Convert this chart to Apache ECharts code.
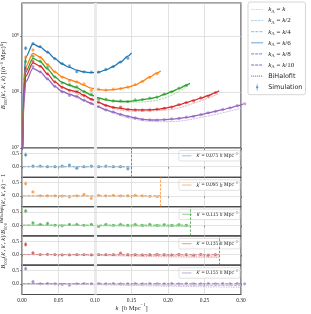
<!DOCTYPE html>
<html><head><meta charset="utf-8">
<script src="https://cdn.jsdelivr.net/npm/echarts@6/dist/echarts.min.js"></script>
<style>html,body{margin:0;padding:0;background:#fff}#c{width:311px;height:314px}</style>
</head><body><div id="c"></div>
<script>
// ---------------- data ----------------
const kLead = [0.001, 0.0025];
const kBins = [0.005,0.015,0.025,0.035,0.045,0.055,0.065,0.075,0.085,0.095,0.105,0.115,0.125,0.135,0.145,0.155,0.165,0.175,0.185,0.195,0.205,0.215,0.225,0.235,0.245,0.255,0.265,0.275,0.285,0.295,0.305];
const kPrimeLabels = ['0.075','0.095','0.115','0.135','0.155'];
const kEnd = [0.15, 0.19, 0.23, 0.27, 0.31];

// model (BiHalofit-like) curves: values at kLead, then kBins, then kEnd
const modelBlue = [2.0e7,1.58e8, 4.17e8,7.19e8,6.31e8,5.13e8,3.94e8,3.16e8,2.75e8,2.45e8,2.29e8,2.21e8,2.26e8,2.48e8,2.85e8,3.43e8,4.37e8, 5.01e8];
const modelOrange = [1.41e7,1.07e8, 2.82e8,4.90e8,4.17e8,3.09e8,2.29e8,1.86e8,1.66e8,1.51e8,1.32e8,1.17e8,1.10e8,1.08e8,1.10e8,1.15e8,1.22e8,1.33e8,1.55e8,1.86e8,2.19e8, 2.37e8];
const modelGreen = [1.12e7,8.91e7, 2.29e8,3.98e8,3.47e8,2.57e8,1.86e8,1.48e8,1.32e8,1.20e8,1.02e8,8.81e7,7.85e7,7.24e7,6.92e7,6.76e7,6.76e7,7.00e7,7.33e7,7.59e7,8.13e7,9.02e7,1.01e8,1.15e8,1.32e8, 1.43e8];
const modelRed = [1.0e7,7.59e7, 1.91e8,3.31e8,2.88e8,2.09e8,1.51e8,1.22e8,1.08e8,1.01e8,8.71e7,7.50e7,6.53e7,5.75e7,5.31e7,5.13e7,4.90e7,4.79e7,4.79e7,4.79e7,4.90e7,5.13e7,5.43e7,5.89e7,6.46e7,7.08e7,7.76e7,8.61e7,9.77e7, 1.05e8];
const modelPurple = [8.91e6,6.31e7, 1.51e8,2.63e8,2.29e8,1.70e8,1.26e8,1.02e8,9.12e7,8.32e7,7.08e7,6.24e7,5.43e7,4.79e7,4.37e7,3.98e7,3.67e7,3.43e7,3.24e7,3.16e7,3.16e7,3.20e7,3.27e7,3.37e7,3.51e7,3.69e7,3.94e7,4.22e7,4.52e7,4.84e7,5.21e7,5.65e7,6.17e7, 6.46e7];

// faint k_Lambda = k variant in the main panel (k, B)
const mainVarGreen = [[0.05,1.62e8],[0.1,8.15e7],[0.15,6.6e7],[0.19,7.4e7],[0.23,1.36e8]];
const mainVarRed = [[0.05,1.32e8],[0.1,6.87e7],[0.15,4.55e7],[0.2,4.8e7],[0.24,6.6e7],[0.27,9.35e7]];
const mainVarPurple = [[0.05,1.12e8],[0.1,5.71e7],[0.15,3.34e7],[0.2,2.95e7],[0.25,3.62e7],[0.3,5.12e7]];

// simulation / BiHalofit - 1 at kBins
const resBlue = [0.45,0.02,0.02,0.0,0.0,0.02,0.06,-0.06,0.0,0.02,0.0,0.02,0.0,0.0,-0.08];
const resOrange = [0.47,0.15,0.0,0.0,0.0,-0.01,-0.04,0.0,0.06,-0.09,0.02,0.0,0.02,0.0,0.0,0.02,0.0,-0.02,-0.03];
const resGreen = [0.53,0.09,0.03,0.07,0.0,-0.02,0.03,0.03,0.0,0.03,-0.05,0.03,0.0,0.03,0.0,0.03,0.0,0.03,0.0,0.02,0.0,0.02,0.0];
const resRed = [0.38,0.06,0.0,0.01,0.0,-0.01,-0.01,0.0,0.0,-0.01,0.0,0.0,0.0,0.05,0.0,0.0,-0.01,0.0,0.01,0.0,-0.01,0.01,0.0,-0.02,0.01,-0.02,0.0];
const resPurple = [0.57,0.08,0.0,0.01,0.0,-0.02,-0.05,0.0,0.01,0.0,0.01,0.0,0.01,0.0,0.0,0.01,0.0,0.01,0.0,0.0,0.01,0.0,0.01,0.0,0.0,0.01,0.0,0.01,0.0,0.01,0.0];
// relative 1-sigma errors of the simulation points
const simErr = [0.08,0.035,0.025,0.02,0.016,0.014,0.012,0.011,0.01,0.009,0.009,0.008,0.008,0.007,0.007,0.007,0.006,0.006,0.006,0.006,0.005,0.005,0.005,0.005,0.005,0.005,0.004,0.004,0.004,0.004,0.004];

// faint k_Lambda variants / BiHalofit - 1 in the residual panels (k, ratio-1)
const resVarBlue = [[[0.005,0],[0.15,-0.01]]];
const resVarOrange = [[[0.005,0],[0.1,-0.01],[0.19,-0.025]]];
const resVarGreen = [[[0.005,0],[0.05,-0.003],[0.1,-0.02],[0.15,-0.035],[0.23,-0.05]],
                     [[0.005,0],[0.1,-0.01],[0.23,-0.025]]];
const resVarRed = [[[0.005,0],[0.05,-0.005],[0.1,-0.03],[0.15,-0.06],[0.2,-0.085],[0.27,-0.11]],
                   [[0.005,0],[0.1,-0.015],[0.2,-0.045],[0.27,-0.06]]];
const resVarPurple = [[[0.005,0],[0.05,-0.005],[0.1,-0.03],[0.15,-0.06],[0.2,-0.09],[0.25,-0.11],[0.31,-0.13]],
                      [[0.005,0],[0.1,-0.015],[0.2,-0.045],[0.31,-0.065]]];

const mainLegendNames = ['kL=k','kL=k/2','kL=k/4','kL=k/6','kL=k/8','kL=k/10','BiHalofit','Simulation'];
const mainLegendSuffix = ['', '/2', '/4', '/6', '/8', '/10'];

// ---------------- chart ----------------
const colors = ['#1f77b4','#ff7f0e','#2ca02c','#d62728','#9467bd'];
const lightColors = ['#a9cbe3','#ffc48f','#a6d6a6','#eea8a8','#cdbbe2'];
const models = [modelBlue, modelOrange, modelGreen, modelRed, modelPurple];
const resids = [resBlue, resOrange, resGreen, resRed, resPurple];
const mainVars = [null, null, mainVarGreen, mainVarRed, mainVarPurple];
const resVars = [resVarBlue, resVarOrange, resVarGreen, resVarRed, resVarPurple];
const SERIF = 'Liberation Serif';
const TXT = '#262626';
const CLEAR = 'rgba(0,0,0,0)';
const LEFT = 22, WIDTH = 219, MAIN_TOP = 3, MAIN_H = 145, RES_H = 29.3;

function rich(fs) {
  return {
    i: {fontFamily: SERIF, fontStyle: 'italic', fontSize: fs, lineHeight: fs + 2, color: TXT},
    n: {fontFamily: SERIF, fontSize: fs, lineHeight: fs + 2, color: TXT},
    s: {fontFamily: SERIF, fontSize: fs * 0.7, lineHeight: fs * 0.7, verticalAlign: 'bottom', color: TXT},
    u: {fontFamily: SERIF, fontSize: fs * 0.7, lineHeight: fs * 0.7, verticalAlign: 'top', color: TXT},
    si: {fontFamily: SERIF, fontStyle: 'italic', fontSize: fs * 0.7, lineHeight: fs * 0.7, verticalAlign: 'top', color: TXT},
    t: {fontFamily: 'DejaVu Sans', fontSize: fs * 0.92, lineHeight: fs + 2, color: TXT}
  };
}
const SUP = '⁰¹²³⁴⁵⁶⁷⁸⁹';
function supNum(e) { return String(e).split('').map(c => SUP[+c]).join(''); }

const grids = [{left: LEFT, top: MAIN_TOP, width: WIDTH, height: MAIN_H}];
for (let i = 0; i < 5; i++) grids.push({left: LEFT, top: MAIN_TOP + MAIN_H + i * RES_H, width: WIDTH, height: RES_H});
grids.forEach(g => Object.assign(g, {show: true, borderColor: '#4a4a4a', borderWidth: 1.2, backgroundColor: CLEAR, containLabel: false, outerBoundsMode: 'none'}));

const xAxes = grids.map((g, i) => ({
  type: 'value', gridIndex: i, min: 0, max: 0.3, interval: 0.05,
  axisLine: {show: false},
  axisTick: {show: true, length: 2, lineStyle: {color: '#4d4d4d', width: 0.6}},
  axisLabel: {show: i === 5, fontSize: 5.5, fontFamily: SERIF, color: TXT, margin: 3, formatter: v => v.toFixed(2)},
  splitLine: {show: true, lineStyle: {color: '#cfcfcf', width: 0.6}},
  name: i === 5 ? '{i|k} {n|[}{i|h}{n| Mpc}{u|−1}{n|]}' : '',
  nameLocation: 'middle', nameGap: 8, nameMoveOverlap: false,
  nameTextStyle: {rich: rich(6.5)}
}));

const yAxes = [{
  type: 'log', logBase: 10, gridIndex: 0, min: 1e7, max: 3.88e9,
  axisLine: {show: false},
  axisTick: {show: true, length: 2, lineStyle: {color: '#4d4d4d', width: 0.6}},
  axisLabel: {fontSize: 5.5, fontFamily: SERIF, color: TXT, margin: 3, showMaxLabel: false,
    formatter: v => '10' + supNum(Math.round(Math.log10(v)))},
  splitLine: {show: true, lineStyle: {color: '#cfcfcf', width: 0.6}},
  name: '{i|B}{s|000}{n|(}{i|k}{n|′, }{i|k}{n|′, }{i|k}{n|) [(}{i|h}{u|−1}{n| Mpc)}{u|6}{n|]}',
  nameLocation: 'middle', nameGap: 14, nameRotate: 90, nameMoveOverlap: false,
  nameTextStyle: {rich: rich(6.5)}
}];
for (let i = 0; i < 5; i++) {
  yAxes.push({
    type: 'value', gridIndex: i + 1, min: -0.4, max: 0.7,
    axisLine: {show: false},
    axisTick: {show: true, length: 2, customValues: [0, 0.5], lineStyle: {color: '#4d4d4d', width: 0.6}},
    axisLabel: {customValues: [0, 0.5], fontSize: 5.5, fontFamily: SERIF, color: TXT, margin: 3, formatter: v => v.toFixed(1)},
    splitLine: {show: false},
    name: i === 2 ? '{i|B}{s|000}{n|(}{i|k}{n|′, }{i|k}{n|′, }{i|k}{n|)/}{i|B}{s|000}{si|BiHalofit}{n|(}{i|k}{n|′, }{i|k}{n|′, }{i|k}{n|) − 1}' : '',
    nameLocation: 'middle', nameGap: 14, nameRotate: 90, nameMoveOverlap: false,
    nameTextStyle: {rich: rich(6.5)}
  });
}

function renderErr(params, api) {
  const x = api.value(0), y = api.value(1), e = api.value(2);
  const p = api.coord([x, y]);
  const lo = api.coord([x, y - e]), hi = api.coord([x, y + e]);
  const color = api.visual('color');
  return {type: 'group', children: [
    {type: 'line', shape: {x1: p[0], y1: lo[1], x2: p[0], y2: hi[1]}, style: {stroke: color, lineWidth: 0.8, opacity: 0.75}},
    {type: 'circle', shape: {cx: p[0], cy: p[1], r: 1.6}, style: {fill: color, opacity: 0.6}}
  ]};
}

const series = [];
// background: wide light line at k=0.1 and horizontal grid in residual panels
for (let i = 0; i < 6; i++) {
  const ml = [{xAxis: 0.1, lineStyle: {color: '#ebebeb', width: 3, type: 'solid'}}];
  if (i > 0) {
    ml.push({yAxis: 0, lineStyle: {color: '#d2d2d2', width: 0.6, type: 'solid'}});
    ml.push({yAxis: 0.5, lineStyle: {color: '#d2d2d2', width: 0.6, type: 'solid'}});
  }
  series.push({type: 'line', xAxisIndex: i, yAxisIndex: i, data: [], silent: true, z: 1,
    markLine: {silent: true, symbol: 'none', label: {show: false}, animation: false, data: ml}});
}

const resLegendNames = [];
for (let i = 0; i < 5; i++) {
  const n = resids[i].length;
  const kLine = kLead.concat(kBins.slice(0, n), [kEnd[i]]);
  const m = models[i];
  if (mainVars[i]) {
    series.push({type: 'line', xAxisIndex: 0, yAxisIndex: 0, silent: true, z: 2,
      data: mainVars[i], showSymbol: false, symbol: 'none', smooth: 0.4,
      lineStyle: {color: lightColors[i], width: 1, type: [2, 1]}});
  }
  series.push({type: 'line', xAxisIndex: 0, yAxisIndex: 0, silent: true, z: 3,
    data: kLine.map((k, j) => [k, m[j]]), showSymbol: false, symbol: 'none',
    smooth: 0.3, smoothMonotone: 'x', lineStyle: {color: colors[i], width: 1.3}});
  series.push({type: 'custom', xAxisIndex: 0, yAxisIndex: 0, silent: true, z: 4,
    itemStyle: {color: colors[i]}, renderItem: renderErr, encode: {x: 0, y: 1},
    data: resids[i].map((r, j) => { const v = m[j + 2] * (1 + r); return [kBins[j], v, v * simErr[j]]; })});
  // residual panel
  resVars[i].forEach((vd, q) => {
    series.push({type: 'line', xAxisIndex: i + 1, yAxisIndex: i + 1, silent: true, z: 2,
      data: vd, showSymbol: false, symbol: 'none', smooth: 0.4,
      lineStyle: {color: lightColors[i], width: 1, type: q === 0 ? [1.5, 1] : [3, 1]}});
  });
  series.push({type: 'line', xAxisIndex: i + 1, yAxisIndex: i + 1, silent: true, z: 3,
    data: [[kLead[0], 0], [kEnd[i], 0]], showSymbol: false, symbol: 'none',
    lineStyle: {color: colors[i], width: 1, type: [3, 1.5]},
    markLine: {silent: true, symbol: 'none', label: {show: false}, animation: false,
      data: [{xAxis: kEnd[i]}], lineStyle: {color: colors[i], width: 0.7, type: [2.5, 1.5]}}});
  series.push({type: 'custom', xAxisIndex: i + 1, yAxisIndex: i + 1, silent: true, z: 4,
    itemStyle: {color: colors[i]}, renderItem: renderErr, encode: {x: 0, y: 1},
    data: resids[i].map((r, j) => [kBins[j], r, simErr[j]])});
  const ln = 'kp' + i;
  resLegendNames.push(ln);
  series.push({type: 'line', name: ln, xAxisIndex: i + 1, yAxisIndex: i + 1, data: [], showSymbol: false, symbol: 'none',
    itemStyle: {color: CLEAR}, lineStyle: {color: lightColors[i], width: 1.2}});
}

// dummy series for the main legend
const mainStyles = [
  {color: '#b5d4ea', type: [1.5, 1]},
  {color: '#9cc5e3', type: [2.5, 1]},
  {color: '#80b2da', type: [3, 1.2]},
  {color: '#5d9bcf', type: 'solid'},
  {color: '#4b86c4', type: [3, 1]},
  {color: '#4d6db5', type: [3, 1]},
  {color: '#3b4a9e', type: [1, 1]},
  {color: '#5a9bd0', type: 'solid'}
];
mainLegendNames.forEach((nm, j) => {
  series.push({type: 'line', name: nm, xAxisIndex: 0, yAxisIndex: 0, data: [], showSymbol: false, symbol: 'none',
    itemStyle: {color: nm === 'Simulation' ? mainStyles[j].color : CLEAR},
    lineStyle: {color: mainStyles[j].color, width: 0.9, type: mainStyles[j].type}});
});

const simIcon = 'path://M0,0L0.01,0Z M24,14L24.01,14Z M11.4,0L12.6,0L12.6,14L11.4,14Z M12,4.5A2.5,2.5 0 1 1 12,9.5A2.5,2.5 0 1 1 12,4.5Z';

function mainFmt(name) {
  const j = mainLegendNames.indexOf(name);
  if (j < 6) return '{i|k}{s|Λ}{n| = }{i|k}{n|' + mainLegendSuffix[j] + '}';
  return '{t|' + name + '}';
}

const legends = [{
  data: mainLegendNames.map(n => n === 'Simulation' ? {name: n, icon: simIcon, itemStyle: {color: '#5a9bd0'}} : {name: n}),
  left: 248, top: 2, orient: 'vertical', itemWidth: 12, itemHeight: 7, itemGap: 2.1,
  padding: [3, 3, 3, 2.7], borderColor: '#cccccc', borderWidth: 0.8, borderRadius: 2,
  backgroundColor: '#ffffff', selectedMode: false,
  lineStyle: {width: 0.9},
  textStyle: {fontSize: 7, lineHeight: 8, color: TXT, rich: rich(7)},
  formatter: mainFmt
}];
for (let i = 0; i < 5; i++) {
  legends.push({
    data: [resLegendNames[i]], right: 71, top: MAIN_TOP + MAIN_H + i * RES_H + 2.5,
    itemWidth: 9.5, itemHeight: 4, padding: [1.5, 2, 1.5, 2.5],
    borderColor: '#cccccc', borderWidth: 0.6, borderRadius: 1.5, backgroundColor: '#ffffff', selectedMode: false,
    lineStyle: {width: 1.2},
    textStyle: {fontSize: 5.5, lineHeight: 6, color: TXT, rich: rich(5.5)},
    formatter: () => '{i|k}{n|′ = ' + kPrimeLabels[i] + ' }{i|h}{n| Mpc}{u|−1}'
  });
}

const chart = echarts.init(document.getElementById('c'), null, {renderer: 'canvas'});
chart.setOption({
  animation: false,
  backgroundColor: '#ffffff',
  grid: grids, xAxis: xAxes, yAxis: yAxes, legend: legends, series: series
});
</script></body></html>
